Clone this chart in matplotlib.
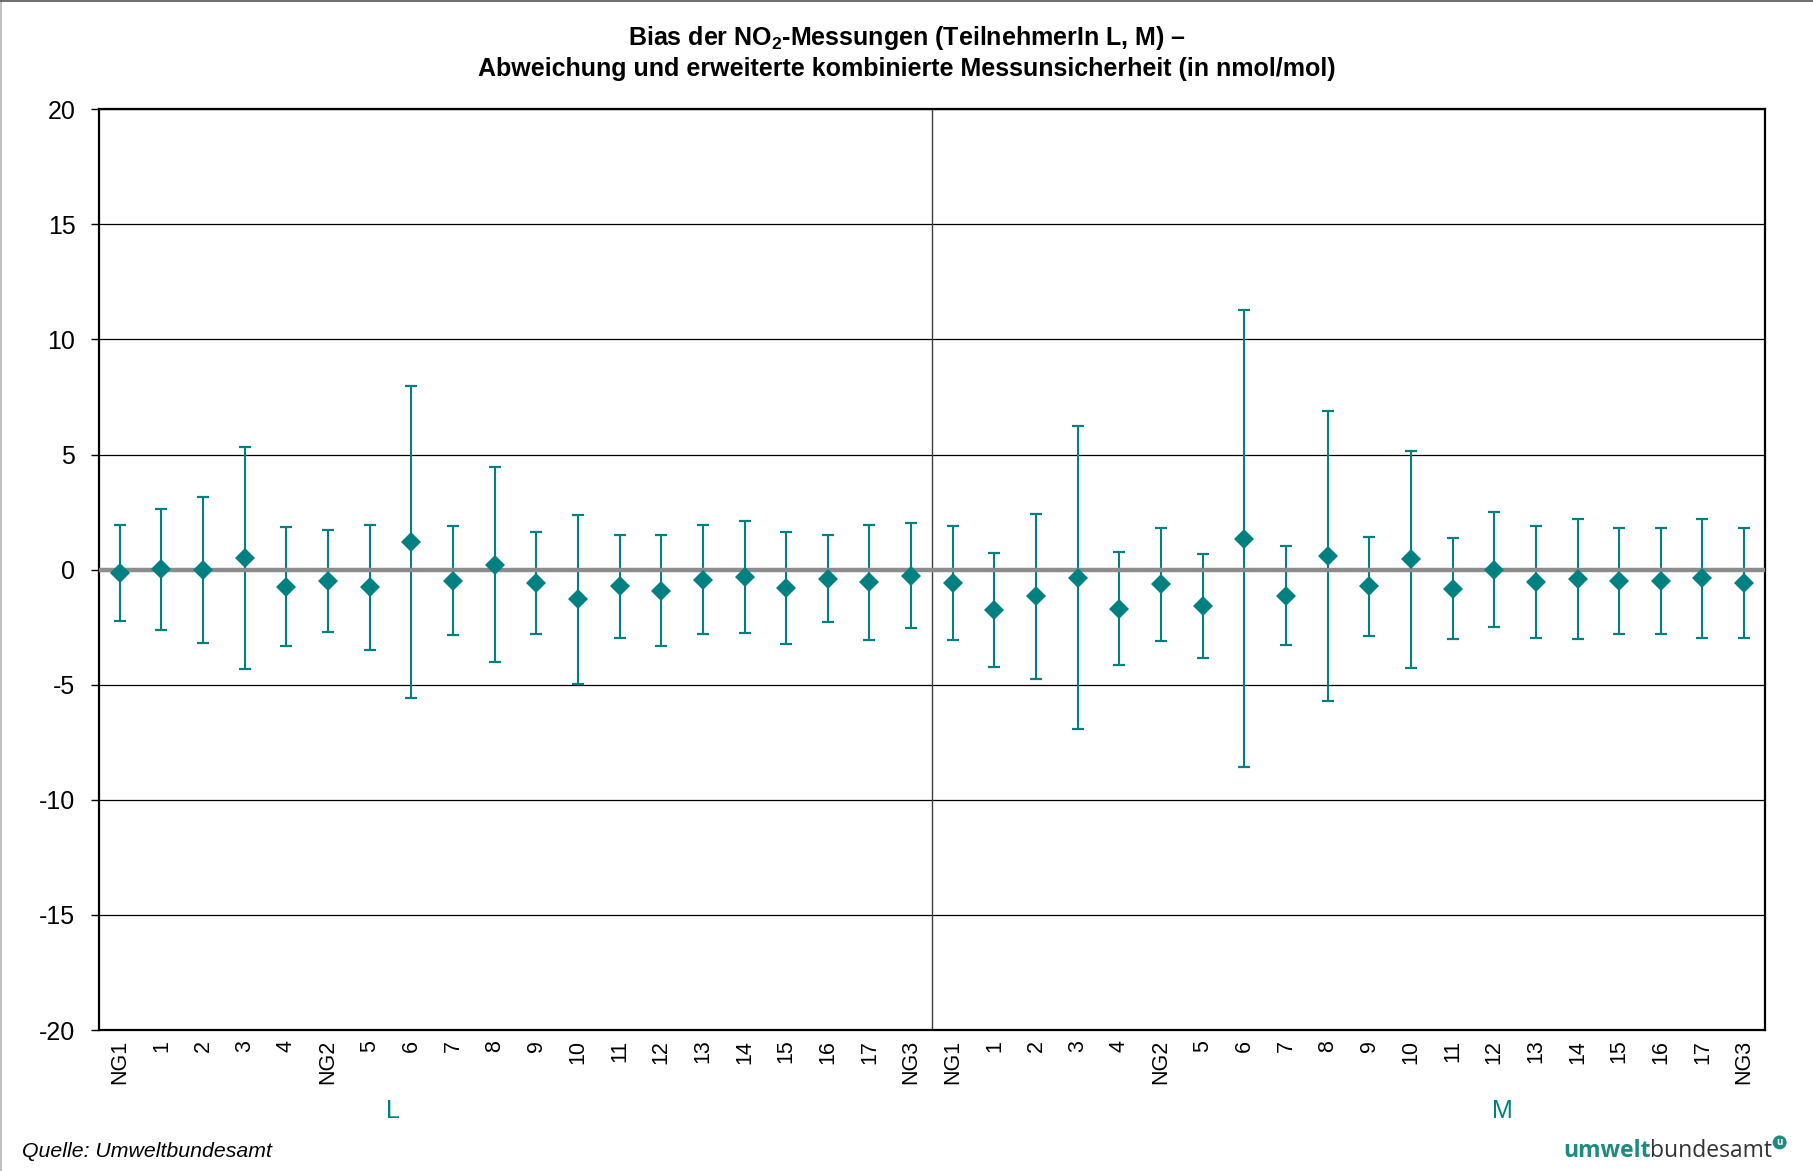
import matplotlib
matplotlib.use("Agg")
import matplotlib.pyplot as plt
from matplotlib.lines import Line2D
import numpy as np

plt.rcParams['font.family'] = ['Liberation Sans', 'DejaVu Sans']
plt.rcParams['mathtext.fontset'] = 'custom'
plt.rcParams['mathtext.rm'] = 'Liberation Sans'
plt.rcParams['mathtext.bf'] = 'Liberation Sans:bold'

# Sample labels per participant (NG = Nullgas)
categories = ["NG1", "1", "2", "3", "4", "NG2", "5", "6", "7", "8", "9",
              "10", "11", "12", "13", "14", "15", "16", "17", "NG3"]
participants = ["L", "M"]

# Bias (nmol/mol) and expanded combined uncertainty U (nmol/mol)
bias_L = [-0.14, 0.01, 0.00, 0.51, -0.74, -0.48, -0.77, 1.20, -0.48, 0.22,
          -0.58, -1.29, -0.72, -0.91, -0.43, -0.32, -0.79, -0.39, -0.55, -0.26]
unc_L = [2.10, 2.62, 3.17, 4.82, 2.58, 2.21, 2.71, 6.79, 2.36, 4.24,
         2.21, 3.67, 2.23, 2.42, 2.36, 2.44, 2.42, 1.90, 2.50, 2.27]
bias_M = [-0.58, -1.75, -1.16, -0.35, -1.69, -0.64, -1.56, 1.34, -1.13, 0.58,
          -0.72, 0.45, -0.82, -0.01, -0.53, -0.42, -0.49, -0.49, -0.38, -0.58]
unc_M = [2.46, 2.48, 3.59, 6.59, 2.44, 2.45, 2.26, 9.93, 2.16, 6.29,
         2.15, 4.71, 2.20, 2.50, 2.44, 2.61, 2.30, 2.31, 2.59, 2.40]

y_ticks = [-20, -15, -10, -5, 0, 5, 10, 15, 20]

teal = "#008080"

fig = plt.figure(figsize=(18.13, 11.71), dpi=100)
ax = fig.add_axes([0.0546, 0.1204, 0.9189, 0.7863])

bias = bias_L + bias_M
unc = unc_L + unc_M
labels = categories + categories
x = np.arange(len(bias))

# error bars
ax.errorbar(x, bias, yerr=unc, fmt="none", ecolor=teal, elinewidth=1.5,
            capsize=4.3, capthick=1.6, zorder=3)
# zero reference line
ax.axhline(0, color="#8c8c8c", lw=3.2, zorder=3.5)
# bias markers
ax.plot(x, bias, linestyle="none", marker="D", markersize=10,
        color=teal, markeredgewidth=0, zorder=4)

# separator between participants
ax.axvline(len(categories) - 0.5, color="#404040", lw=1.0, zorder=2)

ax.set_xlim(-0.5, len(bias) - 0.5)
ax.set_ylim(-20, 20)
ax.set_yticks(y_ticks)
ax.set_yticklabels([str(v) for v in y_ticks])
ax.yaxis.grid(True, color="black", lw=0.9)
ax.set_axisbelow(True)

ax.set_xticks(x)
ax.set_xticklabels(labels, rotation=90, va="top", ha="center")
ax.tick_params(axis="x", length=0, pad=7, labelsize=15.5)
ax.tick_params(axis="y", length=6, width=1, pad=11, labelsize=18)

for s in ax.spines.values():
    s.set_color("black")
    s.set_linewidth(1.6)

# participant labels below the sample labels
label_pos = [6.56, 33.2]
for p, xc in zip(participants, label_pos):
    ax.text(xc, -0.0885, p, transform=ax.get_xaxis_transform(),
            ha="center", va="center", color=teal, fontsize=18)

# title
fig.text(0.5, 0.9675, "Bias der NO$_\\mathbf{2}$-Messungen (TeilnehmerIn L, M) \u2013",
         ha="center", va="center", fontsize=18, fontweight="bold")
fig.text(0.5, 0.9415, "Abweichung und erweiterte kombinierte Messunsicherheit (in nmol/mol)",
         ha="center", va="center", fontsize=18, fontweight="bold")

# source note
fig.text(0.012, 0.017, "Quelle: Umweltbundesamt", ha="left", va="center",
         fontsize=15.3, style="italic")

# logo wordmark
t1 = fig.text(0.862, 0.007, "umwelt", ha="left", va="bottom", fontsize=16.5,
              fontweight="bold", color="#1f8a7f", family="Open Sans")
t2 = ax.annotate("bundesamt", xy=(1, 0), xycoords=t1, ha="left", va="bottom",
                 fontsize=16.5, color="#333333", family="Open Sans",
                 annotation_clip=False)
ax.annotate("u", xy=(1, 0.85), xycoords=t2, xytext=(3, 0), textcoords="offset points",
            ha="left", va="center", fontsize=7, fontweight="bold", color="white",
            family="Open Sans", annotation_clip=False,
            bbox=dict(boxstyle="circle,pad=0.15", fc="#1f8a7f", ec="none"))

# outer frame lines
fig.add_artist(Line2D([0.0008, 0.0008], [0, 1], transform=fig.transFigure,
                      color="#b5b5b5", lw=1.2))
fig.add_artist(Line2D([0, 1], [0.9988, 0.9988], transform=fig.transFigure,
                      color="#555555", lw=1.2))

fig.savefig("out.png", dpi=100)
